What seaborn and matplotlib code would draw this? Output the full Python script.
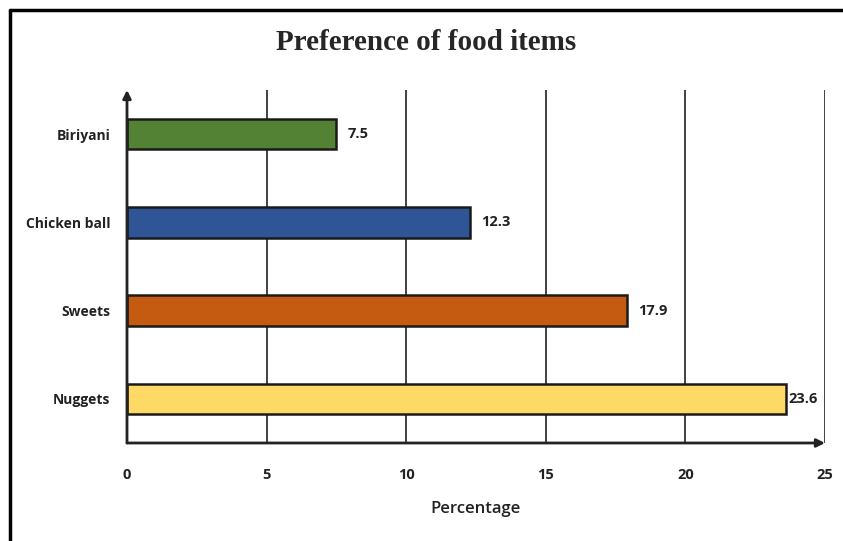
import matplotlib
matplotlib.use("Agg")
import matplotlib.pyplot as plt
import seaborn as sns
import pandas as pd
from matplotlib.lines import Line2D

categories = ["Biriyani", "Chicken ball", "Sweets", "Nuggets"]
values = [7.5, 12.3, 17.9, 23.6]
colors = ["#548235", "#2F5597", "#C55A11", "#FFD966"]
x_ticks = [0, 5, 10, 15, 20, 25]

sns.set_theme(style="white")
plt.rcParams['font.family'] = ['Open Sans', 'DejaVu Sans']

df = pd.DataFrame({"Item": categories, "Percentage": values})

fig = plt.figure(figsize=(8.43, 5.41), dpi=100)
ax = fig.add_axes([127/843, 1-443/541, (825-127)/843, (443-90)/541])

sns.barplot(data=df, x="Percentage", y="Item", hue="Item", palette=colors,
            order=categories, hue_order=categories, legend=False,
            width=0.345, edgecolor="#1a1a1a", linewidth=1.8, saturation=1,
            ax=ax, zorder=3)

ax.set_xlim(0, 25)
ax.set_ylim(3.5, -0.5)
ax.set_xticks(x_ticks)
ax.set_xticklabels([str(t) for t in x_ticks], fontsize=10.5, fontweight="bold", color="#222222")
ax.tick_params(axis="x", length=0, pad=18)
ax.tick_params(axis="y", length=0, pad=12)
for lbl in ax.get_yticklabels():
    lbl.set_fontsize(10)
    lbl.set_fontweight("bold")
    lbl.set_color("#222222")
ax.set_ylabel("")
ax.set_xlabel("Percentage", fontsize=12, fontweight="semibold", color="#222222", labelpad=14)

for s in ax.spines.values():
    s.set_visible(False)

for t in x_ticks[1:]:
    ax.axvline(t, color="#333333", lw=1.3, zorder=1)

# value labels
for i, v in enumerate(values):
    ax.annotate(f"{v}", xy=(v, i), xytext=(8 if v < 23 else 2, 0),
                textcoords="offset points", va="center", ha="left",
                fontsize=10.5, fontweight="bold", color="#222222", zorder=4)

# axes arrows
ax.annotate("", xy=(0, 1.0), xycoords="axes fraction", xytext=(0, 0),
            arrowprops=dict(arrowstyle="-|>", color="#222222", lw=2, mutation_scale=12,
                            shrinkA=0, shrinkB=0), zorder=5)
ax.annotate("", xy=(1.0, 0), xycoords="axes fraction", xytext=(0, 0),
            arrowprops=dict(arrowstyle="-|>", color="#222222", lw=2, mutation_scale=12,
                            shrinkA=0, shrinkB=0), zorder=5)

fig.text(426/843, 1-42/541, "Preference of food items", ha="center", va="center",
         fontsize=21, fontweight="bold", family=["Liberation Serif", "DejaVu Serif"])

# outer frame
fig.add_artist(Line2D([10/843, 1], [1-10/541, 1-10/541], transform=fig.transFigure,
                      color="black", lw=2.5))
fig.add_artist(Line2D([10/843, 10/843], [0, 1-10/541], transform=fig.transFigure,
                      color="black", lw=2.5))

fig.savefig("out.png", dpi=100)
